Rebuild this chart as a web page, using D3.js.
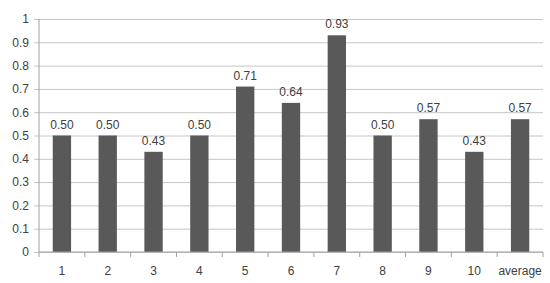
<!DOCTYPE html>
<html>
<head>
<meta charset="utf-8">
<script src="https://cdn.jsdelivr.net/npm/d3@7"></script>
<style>
  body { margin: 0; background: #fff; }
  text { font-family: "Liberation Sans", Arial, sans-serif; fill: #404040; }
</style>
</head>
<body>
<script>
// chart values
var categories = ["1", "2", "3", "4", "5", "6", "7", "8", "9", "10", "average"];
var values = [0.50, 0.50, 0.43, 0.50, 0.71, 0.64, 0.93, 0.50, 0.57, 0.43, 0.57];
var yTicks = [0, 0.1, 0.2, 0.3, 0.4, 0.5, 0.6, 0.7, 0.8, 0.9, 1];

var width = 550, height = 283;
var margin = {top: 19, right: 7, bottom: 31, left: 39};

var svg = d3.select('body').append('svg')
    .attr('width', width)
    .attr('height', height);

var x = d3.scaleBand()
    .domain(categories)
    .range([margin.left, width - margin.right])
    .paddingInner(0.6)
    .paddingOuter(0.3);

var y = d3.scaleLinear()
    .domain([0, 1])
    .range([height - margin.bottom, margin.top]);

// gridlines + y labels
var yAxis = svg.append('g')
    .attr('transform', 'translate(' + margin.left + ',0)')
    .call(d3.axisLeft(y)
        .tickValues(yTicks)
        .tickSize(-(width - margin.left - margin.right))
        .tickSizeOuter(0)
        .tickPadding(10)
        .tickFormat(function (d) { return d === 0 ? "0" : d === 1 ? "1" : d3.format(".1f")(d).replace(/^0/, "0"); }));
yAxis.select('.domain').remove();
yAxis.selectAll('.tick line').attr('stroke', '#c6c6c6').attr('x1', -5);
yAxis.selectAll('.tick text').style('font-size', '12px');

// vertical axis line
svg.append('line')
    .attr('x1', margin.left).attr('x2', margin.left)
    .attr('y1', y(1)).attr('y2', y(0))
    .attr('stroke', '#a0a0a0');

// bars
svg.selectAll('rect.bar')
    .data(values)
    .enter()
    .append('rect')
    .attr('class', 'bar')
    .attr('x', function (d, i) { return x(categories[i]); })
    .attr('width', x.bandwidth())
    .attr('y', function (d) { return y(d); })
    .attr('height', function (d) { return y(0) - y(d); })
    .attr('fill', '#595959');

// value labels
svg.selectAll('text.val')
    .data(values)
    .enter()
    .append('text')
    .attr('class', 'val')
    .attr('x', function (d, i) { return x(categories[i]) + x.bandwidth() / 2; })
    .attr('y', function (d) { return y(d) - 7; })
    .attr('text-anchor', 'middle')
    .style('font-size', '12px')
    .text(function (d) { return d3.format('.2f')(d); });

// x axis with ticks at category boundaries
var step = x.step();
var bounds = d3.range(categories.length + 1).map(function (i) { return margin.left + i * step; });
svg.append('line')
    .attr('x1', margin.left).attr('x2', width - margin.right)
    .attr('y1', y(0)).attr('y2', y(0))
    .attr('stroke', '#a0a0a0');
svg.selectAll('line.xtick')
    .data(bounds)
    .enter()
    .append('line')
    .attr('class', 'xtick')
    .attr('x1', function (d) { return d; }).attr('x2', function (d) { return d; })
    .attr('y1', y(0)).attr('y2', y(0) + 5)
    .attr('stroke', '#a0a0a0');
svg.selectAll('text.xlab')
    .data(categories)
    .enter()
    .append('text')
    .attr('class', 'xlab')
    .attr('x', function (d) { return x(d) + x.bandwidth() / 2; })
    .attr('y', y(0) + 23)
    .attr('text-anchor', 'middle')
    .style('font-size', '12px')
    .text(function (d) { return d; });
</script>
</body>
</html>
